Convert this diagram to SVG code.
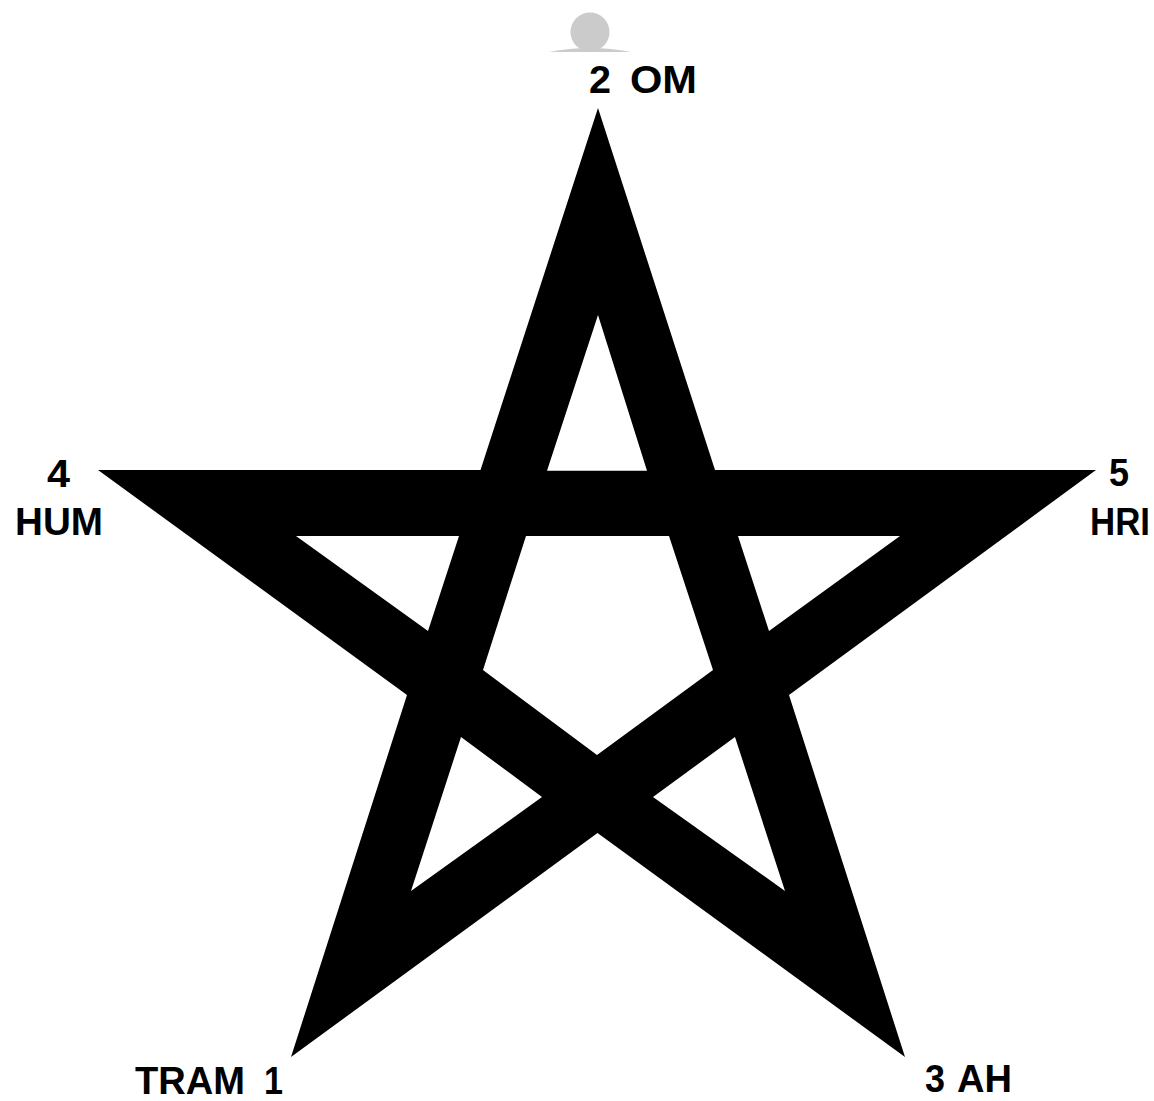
<svg xmlns="http://www.w3.org/2000/svg" width="1154" height="1101" viewBox="0 0 1154 1101">
<style>
.lbl{font-family:"Liberation Sans",Arial,sans-serif;font-weight:bold;font-size:38px;fill:#000}
</style>
<rect width="1154" height="1101" fill="#fff"/>
<g id="marker-icon">
<circle cx="590" cy="32" r="19.5" fill="#cbcbcb"/>
<path d="M549,52 Q590,44 631,52 Z" fill="#cbcbcb"/>
</g>
<g id="pentagram">
<path fill="#000" fill-rule="evenodd" d="M598,108 L715,470 L1096,470 L789,695 L905,1057 L597.5,833 L291,1057 L407,695 L98,470 L480.5,470 Z
M598,315 L647,470.7 L547,470.7 Z
M296,536 L459,536 L428,631 Z
M738,536 L900,536 L769,631 Z
M526,536 L669,536 L713,670 L597,755 L483,670 Z
M461,737 L542,797 L411,891 Z
M735,737 L785,891 L653,797 Z"/>
</g>
<g id="labels">
<g id="label-om">
<text class="lbl" x="589" y="93" textLength="22" lengthAdjust="spacingAndGlyphs">2</text>
<text class="lbl" x="630" y="93" textLength="67" lengthAdjust="spacingAndGlyphs">OM</text>
</g>
<g id="label-hum">
<text class="lbl" x="47" y="487" textLength="23" lengthAdjust="spacingAndGlyphs">4</text>
<text class="lbl" x="15" y="535" textLength="88" lengthAdjust="spacingAndGlyphs">HUM</text>
</g>
<g id="label-hri">
<text class="lbl" x="1109" y="486" textLength="20" lengthAdjust="spacingAndGlyphs">5</text>
<text class="lbl" x="1090" y="535" textLength="60" lengthAdjust="spacingAndGlyphs">HRI</text>
</g>
<g id="label-tram">
<text class="lbl" x="135" y="1094" textLength="110" lengthAdjust="spacingAndGlyphs">TRAM</text>
<text class="lbl" x="264" y="1094" textLength="19" lengthAdjust="spacingAndGlyphs">1</text>
</g>
<g id="label-ah">
<text class="lbl" x="925" y="1092" textLength="20" lengthAdjust="spacingAndGlyphs">3</text>
<text class="lbl" x="957" y="1092" textLength="55" lengthAdjust="spacingAndGlyphs">AH</text>
</g>
</g>
</svg>
